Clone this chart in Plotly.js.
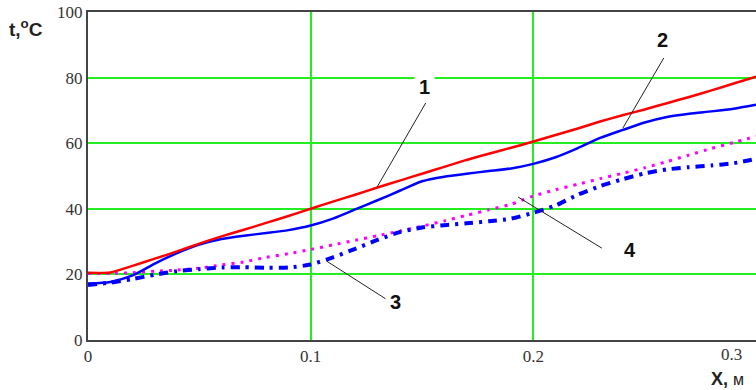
<!DOCTYPE html>
<html>
<head>
<meta charset="utf-8">
<script src="https://cdn.plot.ly/plotly-3.0.1.min.js"></script>
<style>
html,body{margin:0;padding:0;background:#fff;}
#chart{width:756px;height:390px;}
</style>
</head>
<body>
<div id="chart"></div>
<script>
// x positions, m
const xPos = [0,0.01,0.02,0.03,0.04,0.05,0.06,0.07,0.08,0.09,0.1,0.11,0.12,0.13,0.14,0.15,0.16,0.17,0.18,0.19,0.2,0.21,0.22,0.23,0.24,0.25,0.26,0.27,0.28,0.29,0.3];
// curve 1 (red, solid)
const curve1 = [20.5,20.6,22.6,24.8,27.0,29.4,31.6,33.6,35.7,37.8,40.0,42.2,44.3,46.5,48.6,50.7,52.8,54.9,56.8,58.6,60.5,62.5,64.5,66.6,68.5,70.3,72.2,74.1,76.1,78.2,80.3];
// curve 2 (blue, solid)
const curve2 = [17.2,17.7,19.7,23.3,26.5,29.1,30.8,31.8,32.6,33.5,34.9,37.0,39.8,42.6,45.5,48.4,49.8,50.7,51.5,52.3,53.7,55.7,58.5,61.6,64.0,66.3,68.0,69.0,69.7,70.5,71.7];
// curve 3 (blue, dash-dot)
const curve3 = [16.8,17.5,18.6,19.9,21.0,21.6,22.1,22.2,22.0,22.1,23.0,25.2,27.8,30.5,32.9,34.3,35.0,35.6,36.2,37.0,38.8,41.0,44.3,46.9,49.0,50.8,52.0,52.7,53.2,53.9,55.2];
// curve 4 (magenta, dotted)
const curve4 = [20.3,20.3,20.5,21.0,21.3,21.9,22.9,23.8,25.2,26.3,27.6,29.0,30.4,31.8,33.2,34.7,36.3,38.0,39.7,41.4,43.9,45.8,47.5,49.2,50.8,52.5,54.4,56.4,58.4,60.2,62.1];
const xTicks = [0, 0.1, 0.2];
const xTickText = ["0", "0.1", "0.2"];
const yTicks = [0, 20, 40, 60, 80, 100];
const curveLabels = ["1", "2", "3", "4"];

const traces = [
  {x: xPos, y: curve4, mode: 'lines', line: {color: '#ff00ff', width: 3, dash: '3px,6px', shape: 'spline', smoothing: 0.6}},
  {x: xPos, y: curve3, mode: 'lines', line: {color: '#0000ff', width: 4, dash: '9px,6px,3px,6px', shape: 'spline', smoothing: 0.6}},
  {x: xPos, y: curve2, mode: 'lines', line: {color: '#0000ff', width: 2.5, shape: 'spline', smoothing: 0.6}},
  {x: xPos, y: curve1, mode: 'lines', line: {color: '#ff0000', width: 2.5, shape: 'spline', smoothing: 0.6}}
];

const tickFont = {family: '"Liberation Serif", "Times New Roman", serif', size: 17, color: '#333'};
const labelFont = {family: '"Liberation Sans", Arial, sans-serif', size: 20, color: '#111'};

const leaders = [
  [0.1517, 72.3, 0.1298, 46.6],
  [0.2586, 86.0, 0.2402, 64.6],
  [0.1073, 24.0, 0.1338, 12.5],
  [0.1931, 43.6, 0.2308, 28.0]
];
const labelPos = [[0.1513, 77.0], [0.2578, 91.5], [0.1379, 11.6], [0.2434, 27.4]];

const annotations = curveLabels.map((t, i) => ({
  x: labelPos[i][0], y: labelPos[i][1], xref: 'x', yref: 'y',
  text: '<b>' + t + '</b>', showarrow: false, font: labelFont,
  bgcolor: '#ffffff', borderpad: 4
}));
annotations.push({
  x: 0.3, y: 0, xref: 'x', yref: 'y', text: '0.3', showarrow: false,
  xanchor: 'right', yanchor: 'top', xshift: -12, yshift: -3, font: tickFont
});
annotations.push({
  x: 1, y: 0, xref: 'paper', yref: 'paper', xanchor: 'right', yanchor: 'top',
  xshift: -10, yshift: -27,
  text: '<b>X,</b> <span style="font-size:16px">м</span>', showarrow: false,
  font: {family: '"Liberation Sans", Arial, sans-serif', size: 18, color: '#222'}
});
annotations.push({
  x: 0, y: 1, xref: 'paper', yref: 'paper', xanchor: 'left', yanchor: 'top',
  xshift: -81, yshift: -2,
  text: '<b>t,<sup>o</sup>C</b>', showarrow: false,
  font: {family: '"Liberation Sans", Arial, sans-serif', size: 19, color: '#222'}
});

const shapes = leaders.map(l => ({
  type: 'line', xref: 'x', yref: 'y', x0: l[0], y0: l[1], x1: l[2], y1: l[3],
  line: {color: '#222', width: 1}
}));

const layout = {
  width: 756, height: 390,
  margin: {l: 88, r: 0, t: 12, b: 50},
  paper_bgcolor: '#fff', plot_bgcolor: '#fff',
  showlegend: false,
  xaxis: {
    range: [0, 0.3], tickvals: xTicks, ticktext: xTickText,
    showgrid: true, gridcolor: '#22ee22', gridwidth: 2,
    zeroline: false, showline: true, linecolor: '#444', linewidth: 2, mirror: true,
    ticks: '', tickfont: tickFont
  },
  yaxis: {
    range: [0, 100], tickvals: yTicks,
    showgrid: true, gridcolor: '#22ee22', gridwidth: 2,
    zeroline: false, showline: true, linecolor: '#444', linewidth: 2,
    ticks: '', tickfont: tickFont
  },
  annotations: annotations,
  shapes: shapes
};

Plotly.newPlot('chart', traces, layout, {displayModeBar: false, staticPlot: true});
</script>
</body>
</html>
